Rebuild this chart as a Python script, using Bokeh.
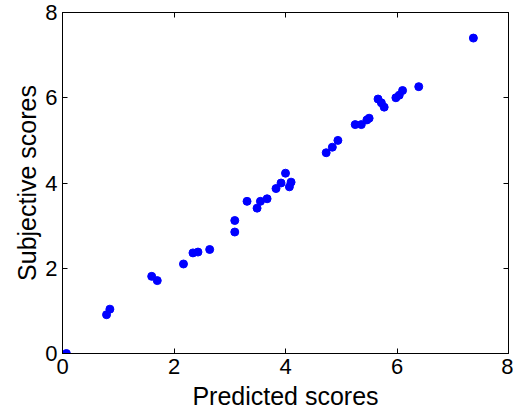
from bokeh.plotting import figure
from bokeh.models import LinearAxis, FixedTicker, Range1d
from bokeh.embed import file_html
from bokeh.resources import INLINE

predicted = [0.07, 0.79, 0.85, 1.60, 1.70, 2.17, 2.34, 2.43, 2.64, 3.09, 3.09,
             3.31, 3.49, 3.55, 3.67, 3.83, 3.92, 4.00, 4.10, 4.07,
             4.73, 4.84, 4.94, 5.25, 5.36, 5.46, 5.50, 5.66, 5.72, 5.77,
             5.98, 6.04, 6.10, 6.39, 7.37]
subjective = [0.00, 0.91, 1.04, 1.81, 1.71, 2.10, 2.36, 2.38, 2.44, 2.85, 3.12,
              3.57, 3.41, 3.57, 3.63, 3.87, 4.00, 4.23, 4.02, 3.91,
              4.71, 4.84, 5.00, 5.37, 5.37, 5.48, 5.52, 5.97, 5.88, 5.78,
              6.00, 6.06, 6.17, 6.26, 7.40]
ticks = [0, 2, 4, 6, 8]
x_label = "Predicted scores"
y_label = "Subjective scores"

FONT = "Liberation Sans"

p = figure(width=513, height=413, output_backend="svg", toolbar_location=None,
           x_range=Range1d(0, 8), y_range=Range1d(0, 8),
           min_border_left=62, min_border_top=12, min_border_right=5, min_border_bottom=60,
           x_axis_label=x_label, y_axis_label=y_label)
p.grid.visible = False
p.outline_line_color = "black"
p.outline_line_width = 1
p.background_fill_color = "white"
p.border_fill_color = "white"

for ax in [p.xaxis[0], p.yaxis[0]]:
    ax.ticker = FixedTicker(ticks=ticks)
    ax.major_tick_in = 5
    ax.major_tick_out = 0
    ax.minor_tick_in = 0
    ax.minor_tick_out = 0
    ax.major_label_text_font = FONT
    ax.major_label_text_font_size = "22px"
    ax.major_label_text_color = "black"
    ax.axis_label_text_font = FONT
    ax.axis_label_text_font_size = "25px"
    ax.axis_label_text_font_style = "normal"
    ax.axis_label_text_color = "black"
    ax.axis_line_color = "black"
    ax.major_tick_line_color = "black"

p.xaxis[0].major_label_standoff = 5
p.xaxis[0].axis_label_standoff = 5
p.yaxis[0].major_label_standoff = 5
p.yaxis[0].axis_label_standoff = 1

for loc in ["above", "right"]:
    a = LinearAxis(ticker=FixedTicker(ticks=ticks), major_tick_in=5, major_tick_out=0,
                   minor_tick_in=0, minor_tick_out=0,
                   major_label_overrides={t: "" for t in ticks},
                   major_label_standoff=0, axis_line_color="black",
                   major_tick_line_color="black")
    p.add_layout(a, loc)

p.scatter(predicted, subjective, size=8, color="#0000ff", line_color="#0000ff")

open("out.html", "w").write(file_html(p, INLINE))
